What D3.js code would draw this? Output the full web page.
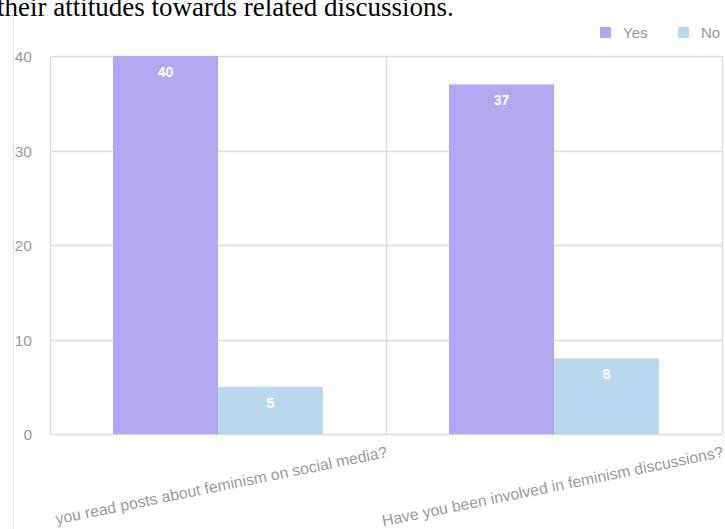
<!DOCTYPE html>
<html>
<head>
<meta charset="utf-8">
<script src="https://cdn.jsdelivr.net/npm/d3@7"></script>
<style>
  html, body { margin: 0; padding: 0; background: #fff; overflow: hidden; }
  svg { display: block; }
</style>
</head>
<body>
<svg id="chart" width="725" height="529"></svg>
<script>
// Survey answers: two questions, Yes / No counts
const questions = [
  "you read posts about feminism on social media?",
  "Have you been involved in feminism discussions?"
];
const seriesNames = ["Yes", "No"];
const yesValues = [40, 37];
const noValues = [5, 8];
const yTicks = [0, 10, 20, 30, 40];
const titleText = "their attitudes towards related discussions.";

const colors = { Yes: "#b3a7f1", No: "#bbd9ed" };
const rows = questions.map((q, i) => ({ q, Yes: yesValues[i], No: noValues[i] }));

const svg = d3.select("#chart");
const font = "'Liberation Sans', Arial, Helvetica, sans-serif";

// Last line of the paragraph above the chart, scrolled partly out of view
svg.append("text")
  .attr("x", -3).attr("y", 16)
  .attr("font-family", "'Liberation Serif', 'Times New Roman', serif")
  .attr("font-size", 27)
  .attr("fill", "#000")
  .text(titleText);

// Thin frame line on the left of the chart card
svg.append("line")
  .attr("x1", 13.5).attr("x2", 13.5).attr("y1", 10).attr("y2", 529)
  .attr("stroke", "#e2e2e2").attr("stroke-width", 1);

const plot = { left: 50, right: 722, top: 56, bottom: 434 };

const x0 = d3.scaleBand().domain(questions).range([plot.left, plot.right]);
const x1 = d3.scaleBand().domain(seriesNames).range([0, 210]);
const y = d3.scaleLinear().domain([0, 40]).range([plot.bottom, plot.top]);

// Horizontal grid
const g = svg.append("g");
g.selectAll("line.h").data(yTicks).join("line")
  .attr("class", "h")
  .attr("x1", plot.left).attr("x2", plot.right)
  .attr("y1", d => Math.round(y(d)) + 0.5).attr("y2", d => Math.round(y(d)) + 0.5)
  .attr("stroke", "#dcdcdc").attr("stroke-width", 1.5);

// Vertical grid at category boundaries
const vx = [plot.left, ...questions.map(q => x0(q) + x0.bandwidth())];
g.selectAll("line.v").data(vx).join("line")
  .attr("class", "v")
  .attr("x1", d => Math.round(d) + 0.5).attr("x2", d => Math.round(d) + 0.5)
  .attr("y1", plot.top).attr("y2", plot.bottom)
  .attr("stroke", "#dcdcdc").attr("stroke-width", 1.5);

// Y axis tick labels
const yAxis = d3.axisLeft(y).tickValues(yTicks).tickSize(0).tickPadding(0);
const ya = svg.append("g").attr("transform", "translate(32,1)").call(yAxis);
ya.select(".domain").remove();
ya.selectAll("text")
  .attr("font-family", font).attr("font-size", 15.5).attr("fill", "#999");

// Bars
const groups = svg.append("g").selectAll("g").data(rows).join("g")
  .attr("transform", d => `translate(${x0(d.q) + x0.bandwidth() / 2 - 105},0)`);

groups.selectAll("rect").data(d => seriesNames.map(k => ({ k, v: d[k] }))).join("rect")
  .attr("x", d => x1(d.k))
  .attr("width", x1.bandwidth())
  .attr("y", d => y(d.v))
  .attr("height", d => y(0) - y(d.v))
  .attr("fill", d => colors[d.k]);

groups.selectAll("text").data(d => seriesNames.map(k => ({ k, v: d[k] }))).join("text")
  .attr("x", d => x1(d.k) + x1.bandwidth() / 2)
  .attr("y", d => y(d.v) + 21)
  .attr("text-anchor", "middle")
  .attr("font-family", font).attr("font-size", 14).attr("font-weight", "bold")
  .attr("fill", "#fff")
  .text(d => d.v);

// Rotated category labels
svg.append("g").selectAll("text").data(questions).join("text")
  .attr("transform", d => `translate(${x0(d) + x0.bandwidth() + 2},457) rotate(-11.5)`)
  .attr("text-anchor", "end")
  .attr("font-family", font).attr("font-size", 15.8).attr("fill", "#999")
  .text(d => d);

// Legend
const legend = svg.append("g");
const legendItems = [
  { k: "Yes", x: 600 },
  { k: "No", x: 678 }
];
legend.selectAll("rect").data(legendItems).join("rect")
  .attr("x", d => d.x).attr("y", 27).attr("width", 11).attr("height", 11)
  .attr("fill", d => colors[d.k]);
legend.selectAll("text").data(legendItems).join("text")
  .attr("x", d => d.x + 23).attr("y", 38)
  .attr("font-family", font).attr("font-size", 15).attr("fill", "#999")
  .text(d => d.k);
</script>
</body>
</html>
